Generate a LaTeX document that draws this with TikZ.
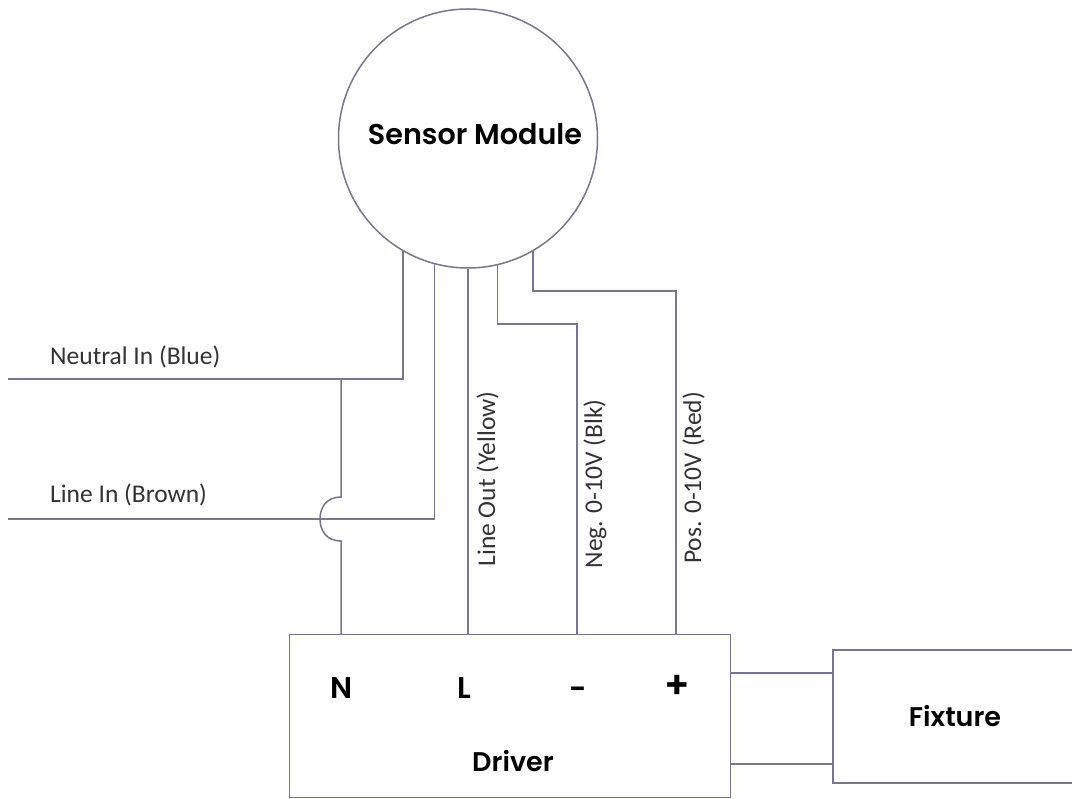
\documentclass[tikz,border=0pt]{standalone}
\usepackage{fontspec}
\setmainfont{Carlito}
\newfontfamily\headfont{Poppins SemiBold}
\tikzset{
  wire/.style={draw=wirecol,line width=1.5pt},
  boxs/.style={draw=wirecol,line width=1.5pt,fill=white,inner sep=0pt},
  lbl/.style={font=\fontsize{25.5}{28}\selectfont,text=black!80,inner sep=0pt},
  head/.style={font=\headfont\fontsize{27}{30}\selectfont,text=black,inner sep=0pt},
  term/.style={font=\headfont\fontsize{30}{32}\selectfont,text=black,inner sep=0pt}
}
\definecolor{wirecol}{RGB}{118,118,148}
\begin{document}
\begin{tikzpicture}[x=1pt,y=-1pt]
\useasboundingbox[fill=white] (0,0) rectangle (1072,799);
\node[boxs,circle,minimum size=259pt] (sensor) at (468,138.5) {};
\node[head,font=\headfont\fontsize{28.6}{30}\selectfont] (sensortxt) at (475,134) {Sensor Module};
\node[boxs,rectangle,minimum width=441pt,minimum height=163pt] (driver) at (510,716) {};
\node[boxs,rectangle,minimum width=242pt,minimum height=133pt,anchor=west] (fixture) at (832,716.5) {};
\node[head] (fixturetxt) at (955,716) {Fixture};
\node[head] (drivertxt) at (513,761) {Driver};
\node[term] (tN) at (342,688.5) {N};
\node[term] (tL) at (464,688.5) {L};
\node[term] (tM) at (578,693) {-};
\node[term,font=\headfont\fontsize{38}{40}\selectfont] (tP) at (677,687) {+};
\coordinate (nIn) at (8,379);
\coordinate (lIn) at (8,519);
\coordinate (jn) at (341,379);
\coordinate (hopT) at (341,497);
\coordinate (hopB) at (341,541);
\coordinate (dN) at (341,635);
\coordinate (dL) at (468,635);
\coordinate (dM) at (577,635);
\coordinate (dP) at (676,635);
\draw[wire] (sensor.240) |- (nIn);
\draw[wire] (sensor.255.2) |- (lIn);
\draw[wire] (sensor.south) -- (dL);
\draw[wire] (sensor.283.8) |- (dM |- 0,324) -- (dM);
\draw[wire] (sensor.300) |- (dP |- 0,291) -- (dP);
\draw[wire] (jn) -- (hopT) .. controls (326,497) and (320,508) .. (320,519) .. controls (320,530) and (326,541) .. (hopB) -- (dN);
\draw[wire] (driver.east |- 0,673) -- (fixture.west |- 0,673);
\draw[wire] (driver.east |- 0,764) -- (fixture.west |- 0,764);
\node[lbl,anchor=base west] (lneutral) at (50,365) {Neutral In (Blue)};
\node[lbl,anchor=base west] (lline) at (50,503) {Line In (Brown)};
\node[lbl,rotate=90,anchor=base] (lout) at (495,479) {Line Out (Yellow)};
\node[lbl,rotate=90,anchor=base] (lneg) at (602,484) {Neg. 0-10V (Blk)};
\node[lbl,rotate=90,anchor=base] (lpos) at (701,478) {Pos. 0-10V (Red)};
\end{tikzpicture}
\end{document}
